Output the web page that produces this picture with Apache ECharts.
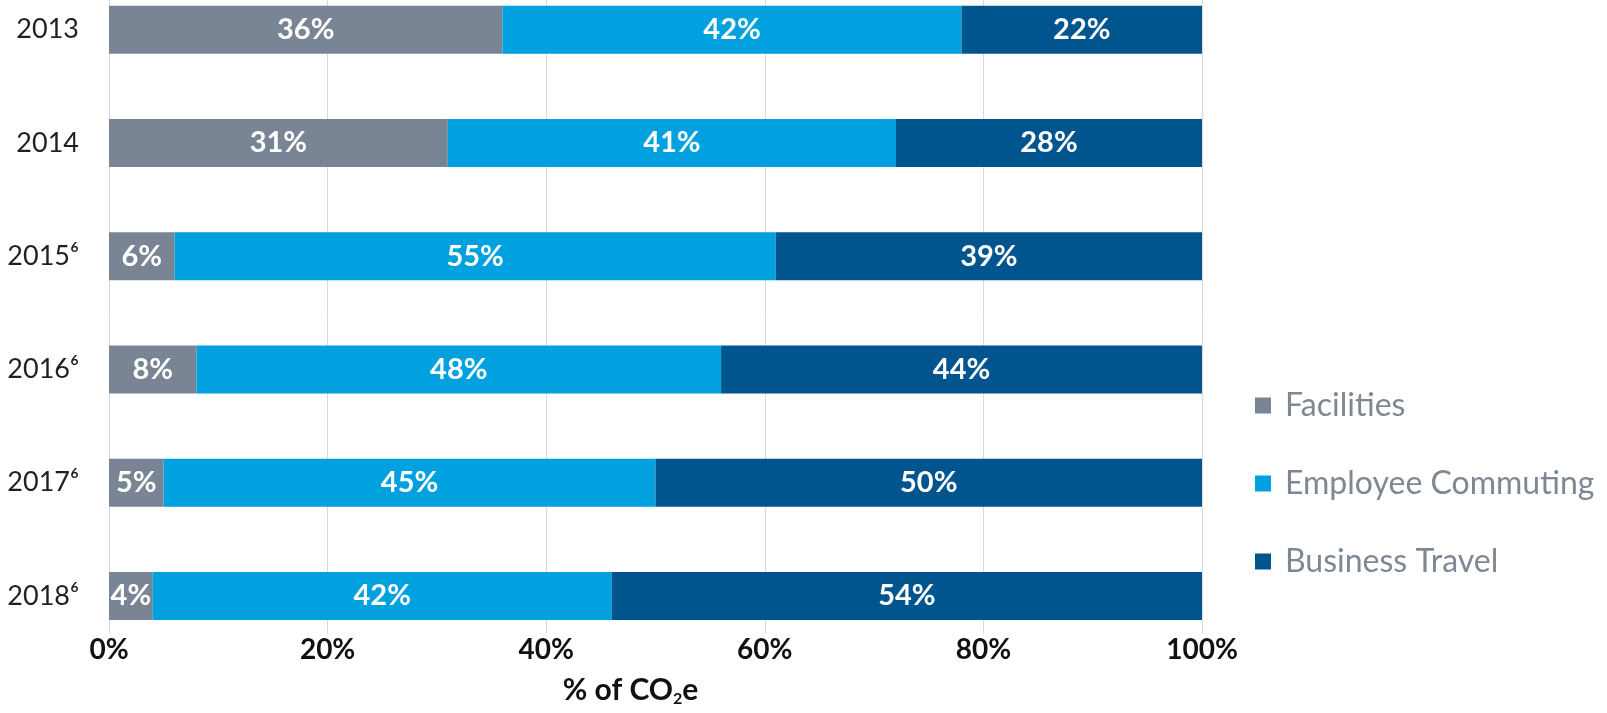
<!DOCTYPE html>
<html>
<head>
<meta charset="utf-8">
<style>
  html, body { margin: 0; padding: 0; background: #ffffff; overflow: hidden; width: 1607px; height: 713px; }
  #chart { position: absolute; left: 0; top: -27px; width: 1607px; height: 740px; }
</style>
<script src="https://cdn.jsdelivr.net/npm/echarts@6/dist/echarts.min.js"></script>
</head>
<body>
<div id="chart"></div>
<script>
const years = ['2013', '2014', '2015⁶', '2016⁶', '2017⁶', '2018⁶'];
const facilities = [36, 31, 6, 8, 5, 4];
const commuting  = [42, 41, 55, 48, 45, 42];
const travel     = [22, 28, 39, 44, 50, 54];
const xTicks = [0, 20, 40, 60, 80, 100];

const FONT = 'Lato, "Open Sans", sans-serif';
const colors = { fac: '#798594', com: '#00a1de', tra: '#00558f' };

function mkSeries(name, data, color) {
  return {
    name: name,
    type: 'bar',
    stack: 'total',
    data: data,
    barWidth: 48,
    itemStyle: { color: color },
    label: {
      show: true,
      position: 'inside',
      formatter: '{c}%',
      color: '#ffffff',
      fontFamily: FONT,
      fontWeight: 'bold',
      fontSize: 29
    },
    emphasis: { disabled: true }
  };
}

const chart = echarts.init(document.getElementById('chart'), null, { renderer: 'canvas' });
chart.setOption({
  backgroundColor: '#ffffff',
  animation: false,
  grid: { left: 109, right: 405, top: 0, bottom: 60.4, containLabel: false },
  legend: {
    orient: 'vertical',
    left: 1250,
    top: 411,
    icon: 'rect',
    itemWidth: 16,
    itemHeight: 16,
    itemGap: 45,
    selectedMode: false,
    textStyle: {
      fontFamily: FONT,
      fontSize: 32,
      color: '#7d8894',
      lineHeight: 33,
      padding: [0, 0, 0, 9]
    },
    data: ['Facilities', 'Employee Commuting', 'Business Travel']
  },
  xAxis: {
    type: 'value',
    min: xTicks[0],
    max: xTicks[xTicks.length - 1],
    interval: 20,
    axisLine: { show: false },
    axisTick: { show: false },
    splitLine: { show: true, lineStyle: { color: '#d9d9dc', width: 1 } },
    axisLabel: {
      formatter: '{value}%',
      margin: -19,
      fontFamily: FONT,
      fontWeight: 'bold',
      fontSize: 28,
      color: '#111111',
      backgroundColor: '#ffffff',
      padding: [2, 2, 2, 2]
    },
    name: '% of CO{sub|2}e',
    nameLocation: 'middle',
    nameGap: 22,
    nameTextStyle: {
      fontFamily: FONT,
      fontWeight: 'bold',
      fontSize: 30,
      color: '#111111',
      padding: [0, 50, 0, 0],
      rich: {
        sub: { fontFamily: FONT, fontWeight: 'bold', fontSize: 16, color: '#111111', padding: [16, 0, 0, 0] }
      }
    }
  },
  yAxis: {
    type: 'category',
    inverse: true,
    data: years,
    axisLine: { show: false },
    axisTick: { show: false },
    splitLine: { show: false },
    axisLabel: {
      margin: 30,
      fontFamily: FONT,
      fontSize: 27,
      color: '#231f20'
    }
  },
  series: [
    mkSeries('Facilities', facilities, colors.fac),
    mkSeries('Employee Commuting', commuting, colors.com),
    mkSeries('Business Travel', travel, colors.tra)
  ]
});
</script>
</body>
</html>
